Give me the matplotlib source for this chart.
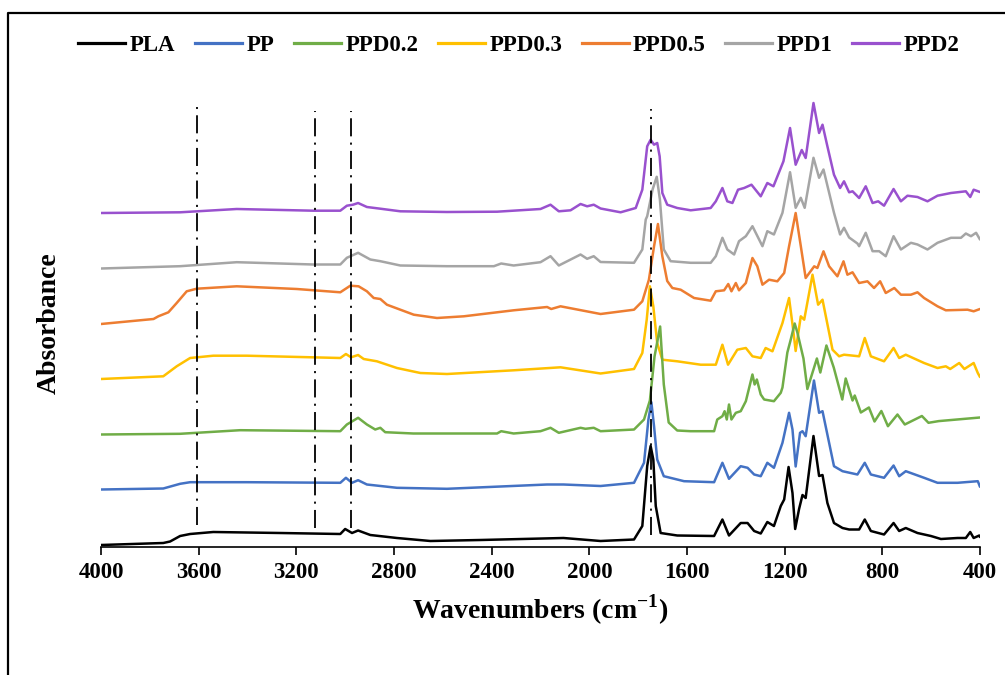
import matplotlib
matplotlib.use("Agg")
import matplotlib.pyplot as plt
from matplotlib.lines import Line2D

plt.rcParams['font.family'] = ['Liberation Serif', 'DejaVu Serif']
plt.rcParams['font.weight'] = 'bold'
plt.rcParams['mathtext.fontset'] = 'custom'
plt.rcParams['mathtext.rm'] = 'Liberation Serif:bold'
plt.rcParams['mathtext.bf'] = 'Liberation Serif:bold'
plt.rcParams['lines.scale_dashes'] = False

# ---------------- data (wavenumber cm-1, absorbance a.u.) ----------------
series_names = ["PLA", "PP", "PPD0.2", "PPD0.3", "PPD0.5", "PPD1", "PPD2"]
series_colors = ["#000000", "#4472C4", "#70AD47", "#FFC000", "#ED7D31", "#A5A5A5", "#9951CE"]
offsets = [0.0, 0.555, 1.105, 1.66, 2.21, 2.765, 3.32]

pla_w = [4000, 3745, 3717, 3676, 3635, 3540, 3266, 3020, 3000, 2972, 2947, 2897, 2788, 2651, 2446, 2106,
         1954, 1817, 1783, 1763, 1749, 1738, 1728, 1708, 1640, 1489, 1455, 1428, 1380, 1352, 1325, 1298,
         1271, 1244, 1216, 1202, 1184, 1168, 1157, 1141, 1127, 1114, 1082, 1059, 1045, 1025, 998, 963,
         936, 895, 872, 847, 793, 754, 731, 704, 656, 601, 560, 492, 458, 440, 426, 403, 400]
pla_a = [0.0, 0.02, 0.035, 0.09, 0.11, 0.13, 0.12, 0.11, 0.16, 0.12, 0.145, 0.10, 0.07, 0.04, 0.05, 0.07,
         0.04, 0.055, 0.19, 0.79, 0.99, 0.855, 0.39, 0.12, 0.095, 0.09, 0.255, 0.095, 0.22, 0.22, 0.14, 0.115,
         0.23, 0.19, 0.39, 0.455, 0.78, 0.52, 0.16, 0.36, 0.50, 0.47, 1.09, 0.69, 0.70, 0.42, 0.22, 0.17,
         0.155, 0.155, 0.255, 0.14, 0.105, 0.22, 0.14, 0.17, 0.12, 0.09, 0.06, 0.07, 0.07, 0.13, 0.07, 0.095, 0.08]

pp_w = [4000, 3745, 3676, 3635, 3403, 3020, 2997, 2972, 2947, 2911, 2788, 2583, 2173, 2106, 1954, 1817,
        1776, 1758, 1746, 1735, 1722, 1695, 1612, 1489, 1455, 1428, 1380, 1352, 1325, 1298, 1271, 1244,
        1209, 1182, 1168, 1155, 1137, 1127, 1114, 1080, 1059, 1045, 998, 963, 902, 872, 847, 793, 754,
        731, 704, 629, 574, 492, 409, 400]
pp_a = [0.0, 0.01, 0.057, 0.073, 0.073, 0.067, 0.117, 0.067, 0.093, 0.05, 0.017, 0.007, 0.05, 0.05, 0.035, 0.067,
        0.267, 0.70, 0.873, 0.633, 0.30, 0.133, 0.083, 0.073, 0.267, 0.107, 0.233, 0.217, 0.15, 0.133, 0.267, 0.217,
        0.467, 0.767, 0.60, 0.23, 0.567, 0.583, 0.533, 1.09, 0.767, 0.783, 0.233, 0.183, 0.15, 0.267, 0.15, 0.117, 0.24,
        0.133, 0.183, 0.117, 0.067, 0.067, 0.083, 0.027]

ppd02_w = [4000, 3676, 3430, 3020, 2993, 2947, 2911, 2877, 2856, 2836, 2721, 2378, 2361, 2310, 2200, 2159,
           2125, 2036, 2016, 1982, 1954, 1817, 1776, 1752, 1733, 1710, 1695, 1675, 1640, 1585, 1489, 1476,
           1455, 1446, 1437, 1428, 1418, 1400, 1380, 1359, 1332, 1323, 1314, 1298, 1284, 1244, 1216, 1209,
           1189, 1175, 1159, 1148, 1123, 1107, 1068, 1054, 1029, 999, 964, 950, 922, 913, 888, 855, 832,
           804, 777, 738, 708, 638, 611, 569, 400]
ppd02_a = [0.0, 0.007, 0.043, 0.033, 0.10, 0.167, 0.10, 0.05, 0.067, 0.023, 0.01, 0.01, 0.033, 0.01, 0.033, 0.067,
           0.017, 0.067, 0.057, 0.067, 0.033, 0.05, 0.15, 0.34, 0.78, 1.08, 0.50, 0.12, 0.04, 0.033, 0.033, 0.15,
           0.183, 0.233, 0.15, 0.30, 0.15, 0.217, 0.233, 0.333, 0.60, 0.50, 0.55, 0.40, 0.35, 0.333, 0.417, 0.47,
           0.82, 0.95, 1.11, 1.02, 0.76, 0.455, 0.76, 0.62, 0.89, 0.67, 0.35, 0.56, 0.34, 0.39, 0.22, 0.27, 0.13,
           0.235, 0.083, 0.20, 0.10, 0.185, 0.117, 0.134, 0.17]

ppd03_w = [4000, 3745, 3690, 3635, 3540, 3403, 3020, 2997, 2976, 2947, 2924, 2870, 2788, 2692, 2583, 2310,
           2118, 1954, 1817, 1783, 1765, 1752, 1738, 1722, 1701, 1640, 1544, 1482, 1455, 1432, 1394, 1359,
           1332, 1298, 1278, 1250, 1209, 1182, 1165, 1155, 1134, 1120, 1086, 1063, 1045, 1004, 977, 957,
           895, 872, 847, 793, 754, 731, 704, 629, 574, 540, 522, 485, 464, 426, 409, 400]
ppd03_a = [0.0, 0.027, 0.127, 0.21, 0.233, 0.233, 0.21, 0.25, 0.217, 0.24, 0.20, 0.177, 0.11, 0.06, 0.05, 0.087,
           0.117, 0.055, 0.10, 0.26, 0.593, 0.927, 0.727, 0.36, 0.193, 0.177, 0.143, 0.143, 0.343, 0.143, 0.293, 0.31,
           0.227, 0.21, 0.31, 0.277, 0.56, 0.81, 0.49, 0.28, 0.627, 0.593, 1.043, 0.743, 0.793, 0.293, 0.227, 0.243,
           0.227, 0.41, 0.227, 0.177, 0.31, 0.21, 0.243, 0.16, 0.11, 0.127, 0.10, 0.16, 0.10, 0.16, 0.06, 0.02]

ppd05_w = [4000, 3785, 3765, 3724, 3690, 3649, 3608, 3444, 3198, 3020, 2979, 2945, 2911, 2883, 2856, 2829,
           2719, 2624, 2514, 2310, 2173, 2156, 2118, 1954, 1817, 1783, 1756, 1735, 1719, 1701, 1681, 1660,
           1626, 1571, 1503, 1482, 1448, 1431, 1418, 1400, 1387, 1359, 1332, 1312, 1291, 1264, 1230, 1202,
           1182, 1155, 1134, 1114, 1079, 1066, 1041, 1018, 984, 959, 943, 922, 895, 861, 834, 809, 786,
           751, 724, 683, 656, 629, 574, 540, 451, 426, 400]
ppd05_a = [0.0, 0.05, 0.077, 0.117, 0.21, 0.327, 0.353, 0.377, 0.35, 0.317, 0.383, 0.377, 0.327, 0.26, 0.25, 0.193,
           0.093, 0.06, 0.077, 0.137, 0.17, 0.15, 0.177, 0.10, 0.143, 0.227, 0.443, 0.777, 1.00, 0.677, 0.43, 0.36,
           0.343, 0.26, 0.233, 0.327, 0.337, 0.40, 0.327, 0.41, 0.337, 0.41, 0.66, 0.577, 0.393, 0.443, 0.427, 0.51,
           0.777, 1.11, 0.78, 0.46, 0.577, 0.56, 0.727, 0.577, 0.477, 0.627, 0.493, 0.517, 0.41, 0.427, 0.36, 0.427, 0.31,
           0.36, 0.293, 0.293, 0.317, 0.26, 0.177, 0.137, 0.143, 0.127, 0.15]

ppd1_w = [4000, 3676, 3444, 3130, 3020, 2993, 2947, 2897, 2856, 2774, 2583, 2391, 2361, 2310, 2200, 2159,
          2125, 2036, 2009, 1982, 1954, 1817, 1783, 1769, 1763, 1741, 1724, 1711, 1695, 1667, 1585, 1503,
          1482, 1455, 1435, 1407, 1387, 1359, 1332, 1291, 1271, 1244, 1209, 1178, 1155, 1134, 1118, 1082,
          1059, 1041, 998, 973, 957, 936, 902, 895, 868, 840, 813, 786, 754, 724, 683, 656, 615, 574, 519,
          478, 458, 437, 416, 400]
ppd1_a = [0.0, 0.023, 0.063, 0.04, 0.04, 0.107, 0.157, 0.09, 0.073, 0.03, 0.023, 0.023, 0.05, 0.03, 0.063, 0.123,
          0.03, 0.14, 0.097, 0.123, 0.065, 0.057, 0.19, 0.49, 0.523, 0.79, 0.917, 0.69, 0.19, 0.073, 0.057, 0.057,
          0.123, 0.307, 0.19, 0.14, 0.273, 0.323, 0.423, 0.223, 0.373, 0.34, 0.557, 0.963, 0.607, 0.707, 0.607, 1.107,
          0.907, 0.99, 0.557, 0.34, 0.407, 0.31, 0.25, 0.223, 0.357, 0.173, 0.173, 0.123, 0.323, 0.19, 0.257, 0.24,
          0.19, 0.257, 0.307, 0.307, 0.35, 0.323, 0.357, 0.29]

ppd2_w = [4000, 3676, 3444, 3130, 3020, 2993, 2968, 2947, 2911, 2856, 2774, 2583, 2378, 2200, 2159, 2125,
          2077, 2036, 2009, 1982, 1954, 1872, 1810, 1783, 1763, 1749, 1735, 1722, 1712, 1701, 1681, 1640,
          1585, 1503, 1482, 1455, 1435, 1414, 1391, 1366, 1336, 1298, 1271, 1246, 1205, 1178, 1155, 1130,
          1114, 1082, 1059, 1045, 1025, 998, 973, 957, 936, 922, 895, 868, 840, 817, 793, 754, 724, 697,
          656, 615, 574, 519, 458, 440, 426, 400]
ppd2_a = [0.0, 0.007, 0.04, 0.023, 0.023, 0.073, 0.083, 0.10, 0.06, 0.043, 0.017, 0.01, 0.013, 0.04, 0.083, 0.017,
          0.027, 0.09, 0.067, 0.083, 0.045, 0.007, 0.05, 0.233, 0.667, 0.733, 0.683, 0.70, 0.567, 0.20, 0.083, 0.05,
          0.027, 0.05, 0.117, 0.25, 0.117, 0.10, 0.233, 0.25, 0.283, 0.167, 0.30, 0.267, 0.517, 0.85, 0.483, 0.63,
          0.55, 1.10, 0.80, 0.883, 0.667, 0.383, 0.25, 0.317, 0.207, 0.217, 0.15, 0.267, 0.10, 0.117, 0.073, 0.24,
          0.117, 0.173, 0.16, 0.117, 0.173, 0.20, 0.217, 0.16, 0.233, 0.21]

series_w = [pla_w, pp_w, ppd02_w, ppd03_w, ppd05_w, ppd1_w, ppd2_w]
series_a = [pla_a, pp_a, ppd02_a, ppd03_a, ppd05_a, ppd1_a, ppd2_a]

# reference (dash-dot) lines: wavenumber, lower and upper extent
ref_lines_w = [3606, 3123, 2975, 1749]
ref_lines_lo = [0.205, 0.175, 0.175, 0.105]
ref_lines_hi = [4.375, 4.335, 4.335, 4.355]

x_ticks = [4000, 3600, 3200, 2800, 2400, 2000, 1600, 1200, 800, 400]

# ---------------- figure ----------------
W, H = 1005, 675
fig = plt.figure(figsize=(W / 100, H / 100), dpi=100)
ax = fig.add_axes([101 / W, (H - 547) / H, 879 / W, 447 / H])

for i in reversed(range(len(series_names))):
    ys = [a + offsets[i] for a in series_a[i]]
    ax.plot(series_w[i], ys, color=series_colors[i], lw=1.8, solid_joinstyle='round',
            solid_capstyle='round', label=series_names[i], zorder=2 + (len(series_names) - i) * 0.01)

for w, lo, hi in zip(ref_lines_w, ref_lines_lo, ref_lines_hi):
    ax.plot([w, w], [lo, hi], color='black', lw=1.3, linestyle=(0, (13, 4.5, 1.5, 4.5)), zorder=5)

ax.set_xlim(4000, 400)
ax.set_ylim(-0.02, 4.45)
ax.set_xticks(x_ticks)
ax.set_xticklabels([str(t) for t in x_ticks], fontsize=16.5, fontweight='bold')
ax.set_yticks([])
for s in ['top', 'right', 'left']:
    ax.spines[s].set_visible(False)
ax.spines['bottom'].set_linewidth(1.2)
ax.tick_params(axis='x', direction='out', length=5.5, width=1.2, pad=5)

ax.set_xlabel(r'Wavenumbers (cm$^{\mathbf{-1}}$)', fontsize=20, fontweight='bold', labelpad=7)
ax.set_ylabel('Absorbance', fontsize=20, fontweight='bold', labelpad=28)

handles = [Line2D([0], [0], color=c, lw=2.3) for c in series_colors]
fig.legend(handles, series_names, loc='center', bbox_to_anchor=(519 / W, 1 - 45 / H), ncol=7,
           frameon=False, handlelength=2.05, handletextpad=0.2, columnspacing=0.85,
           prop={'weight': 'bold', 'size': 16.5})

# partial outer frame (left and top border)
fig.add_artist(Line2D([8 / W, 8 / W, 1.0], [0.0, 1 - 13 / H, 1 - 13 / H], transform=fig.transFigure,
                      color='black', lw=1.6))

fig.savefig('out.png', dpi=100)
